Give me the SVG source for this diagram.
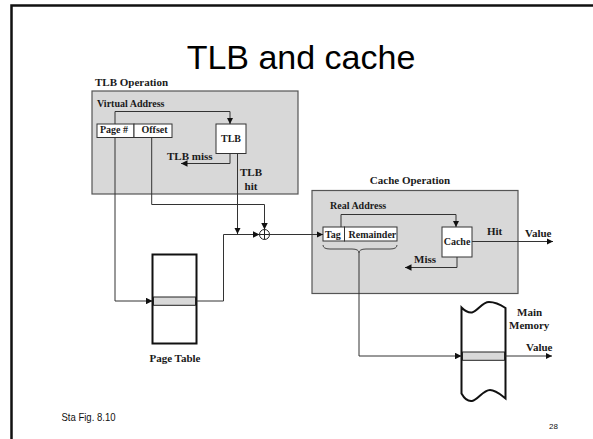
<svg xmlns="http://www.w3.org/2000/svg" width="593" height="439" viewBox="0 0 593 439">
<defs>
<marker id="ah" viewBox="0 0 10 10" refX="10" refY="5" markerWidth="6.5" markerHeight="6.5" markerUnits="userSpaceOnUse" orient="auto">
<path d="M0,0 L10,5 L0,10 Z" fill="#111"/>
</marker>
<style>
.lbl{font-family:"Liberation Serif","Times New Roman",serif;font-weight:bold;fill:#1a1a1a}
.s10{font-size:10px}
.s11{font-size:11px}
.box{fill:#fff;stroke:#333;stroke-width:1}
.panel{fill:#d8d8d8;stroke:#555;stroke-width:1.2}
.conn{fill:none;stroke:#333;stroke-width:1}
.arr{marker-end:url(#ah)}
.thick{fill:#fff;stroke:#111;stroke-width:2}
.strip{fill:#d9d9d9;stroke:#222;stroke-width:1}
</style>
</defs>
<rect width="593" height="439" fill="#fff"/>
<path d="M11.5,439 V5.5 H593" fill="none" stroke="#111" stroke-width="2.5"/>
<text x="301" y="68.5" text-anchor="middle" font-family="'Liberation Sans',Arial,sans-serif" font-size="34" fill="#000">TLB and cache</text>

<g id="tlb-operation">
<text class="lbl s11" x="95" y="85.5">TLB Operation</text>
<rect class="panel" x="92" y="91" width="206" height="103"/>
<text class="lbl s10" x="97" y="107">Virtual Address</text>
</g>
<g id="virtual-address">
<rect class="box" x="97" y="124" width="37" height="13.5"/>
<rect class="box" x="134" y="124" width="38" height="13.5"/>
<text class="lbl s10" x="100" y="133">Page #</text>
<text class="lbl s10" x="141.5" y="133">Offset</text>
</g>
<g id="tlb">
<rect class="box" x="216" y="124" width="30" height="29.5"/>
<text class="lbl s10" x="231" y="141.5" text-anchor="middle">TLB</text>
</g>
<g id="tlb-labels">
<text class="lbl s11" x="167" y="160">TLB miss</text>
<text class="lbl s11" x="251" y="176" text-anchor="middle">TLB</text>
<text class="lbl s11" x="251" y="190" text-anchor="middle">hit</text>
</g>

<g id="page-table">
<rect class="thick" x="152.5" y="254.5" width="44" height="89"/>
<rect class="strip" x="153.5" y="297" width="42" height="8.3"/>
<text class="lbl s11" x="175" y="361.5" text-anchor="middle">Page Table</text>
</g>

<g id="adder">
<circle cx="264.5" cy="234.5" r="5" fill="#fff" stroke="#222" stroke-width="1"/>
<path d="M259.5,234.5 H269.5 M264.5,229.5 V239.5" stroke="#222" stroke-width="1"/>
</g>

<g id="cache-operation">
<text class="lbl s11" x="410" y="184" text-anchor="middle">Cache Operation</text>
<rect class="panel" x="312" y="190.5" width="206" height="103"/>
<text class="lbl s10" x="330" y="209">Real Address</text>
</g>
<g id="real-address">
<rect class="box" x="323" y="227" width="21.5" height="14"/>
<rect class="box" x="344.5" y="227" width="52.5" height="14"/>
<text class="lbl s10" x="325" y="237.5">Tag</text>
<text class="lbl s10" x="348.5" y="237.5">Remainder</text>
<path d="M323,245 Q323,249 330,249 L352,249 Q359,249 359,253 Q359,249 366,249 L390,249 Q397,249 397,245" fill="none" stroke="#333" stroke-width="0.9"/>
</g>
<g id="cache">
<rect class="box" x="442" y="227" width="30" height="30"/>
<text class="lbl s10" x="457" y="245" text-anchor="middle">Cache</text>
</g>
<g id="cache-labels">
<text class="lbl s11" x="487" y="235">Hit</text>
<text class="lbl s11" x="525" y="237">Value</text>
<text class="lbl s11" x="414" y="262.5">Miss</text>
</g>

<g id="main-memory">
<path class="thick" d="M461.5,307.5 C465,311 468,313 472,312.5 C478,311 482,302 489,302 C496,302 501,305 505.5,308 V398.5 C501,395 496,390 490,390 C483,390 478,400 472,401 C468,401.5 464,398 461.5,393.5 Z"/>
<rect class="strip" x="462.5" y="352" width="42" height="8.3"/>
<text class="lbl s11" x="517" y="316">Main</text>
<text class="lbl s11" x="509" y="329">Memory</text>
<text class="lbl s11" x="526" y="351">Value</text>
</g>

<g id="connectors">
<path class="conn arr" d="M115,124 V111.5 H230 V124"/>
<path class="conn arr" d="M230,153.5 V163.5 H181"/>
<path class="conn arr" d="M237.5,153.5 V234"/>
<path class="conn arr" d="M115,137.5 V301 H152.5"/>
<path class="conn arr" d="M196.5,301 H223.5 V234.5 H259.5"/>
<path class="conn arr" d="M151.7,137.5 V204.5 H264.5 V229.5"/>
<path class="conn arr" d="M269.5,234.5 H323"/>
<path class="conn arr" d="M341,227 V214.5 H456 V227"/>
<path class="conn arr" d="M472,241.5 H553"/>
<path class="conn arr" d="M457,257 V267.5 H405"/>
<path class="conn arr" d="M359,253 V356 H461.5"/>
<path class="conn arr" d="M505.5,356 H552"/>
</g>

<text x="61.5" y="420.5" font-family="'Liberation Sans',Arial,sans-serif" font-size="11" fill="#111" textLength="54" lengthAdjust="spacingAndGlyphs">Sta  Fig. 8.10</text>
<text x="549" y="429" font-family="'Liberation Sans',Arial,sans-serif" font-size="8" fill="#111">28</text>
</svg>
